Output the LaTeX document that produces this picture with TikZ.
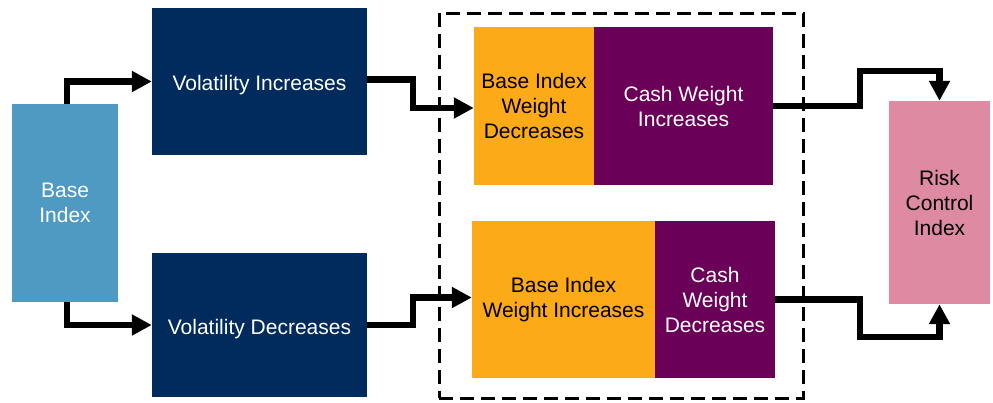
\documentclass[tikz,border=0pt]{standalone}
\usepackage{fontspec}
\setmainfont{Liberation Sans}
\usetikzlibrary{arrows.meta}
\definecolor{baseblue}{HTML}{4F9AC2}
\definecolor{navy}{HTML}{002B5C}
\definecolor{orangebox}{HTML}{FDAA19}
\definecolor{purplebox}{HTML}{6A0057}
\definecolor{pinkbox}{HTML}{DE8AA3}
\tikzset{
  box/.style={draw=none, inner sep=0pt, align=center, font=\fontsize{21}{25}\selectfont},
  lightbox/.style={box, text=black},
  darkbox/.style={box, text=white},
  arr/.style={line width=6.5pt, -{Triangle[width=20pt,length=20pt]}},
  dashedbox/.style={draw=black, line width=3pt, dash pattern=on 14pt off 7pt, minimum width=364pt, minimum height=385pt, inner sep=0pt}
}
\begin{document}
\begin{tikzpicture}[x=1pt,y=-1pt]
\useasboundingbox (0,0) rectangle (993,402);
\node[dashedbox] (strat) at (621,205.5) {};
\node[darkbox, fill=baseblue, minimum width=106pt, minimum height=198pt] (bi) at (65,203) {Base\\Index};
\node[darkbox, fill=navy, minimum width=215pt, minimum height=147pt] (vi) at (259.5,81.5) {\raisebox{-4pt}[\height][\depth]{Volatility Increases}};
\node[darkbox, fill=navy, minimum width=215pt, minimum height=144pt] (vd) at (259.5,325) {\raisebox{-4pt}[\height][\depth]{Volatility Decreases}};
\node[lightbox, fill=orangebox, minimum width=120pt, minimum height=158pt] (to) at (534,106) {Base Index\\Weight\\Decreases};
\node[darkbox, fill=purplebox, minimum width=179pt, minimum height=158pt] (tp) at (683.5,106) {Cash Weight\\Increases};
\node[lightbox, fill=orangebox, minimum width=183pt, minimum height=157pt] (bo) at (563.5,299.5) {Base Index\\Weight Increases};
\node[darkbox, fill=purplebox, minimum width=120pt, minimum height=157pt] (bp) at (715,299.5) {Cash\\Weight\\Decreases};
\node[lightbox, fill=pinkbox, minimum width=101pt, minimum height=203pt] (rc) at (939.5,202.5) {Risk\\Control\\Index};
\draw[arr] ([xshift=2pt]bi.north) |- (vi.west);
\draw[arr] ([xshift=2pt]bi.south) |- (vd.west);
\draw[arr] ([yshift=2pt]vi.east) -- ++(46,0) |- ([yshift=-2pt]to.west);
\draw[arr] (vd.east) -- ++(46,0) |- ([yshift=2pt]bo.west);
\draw[arr] (tp.east) -| ++(87,-35) -| (rc.north);
\draw[arr] (bp.east) -| ++(85,37.5) -| (rc.south);
\end{tikzpicture}
\end{document}
